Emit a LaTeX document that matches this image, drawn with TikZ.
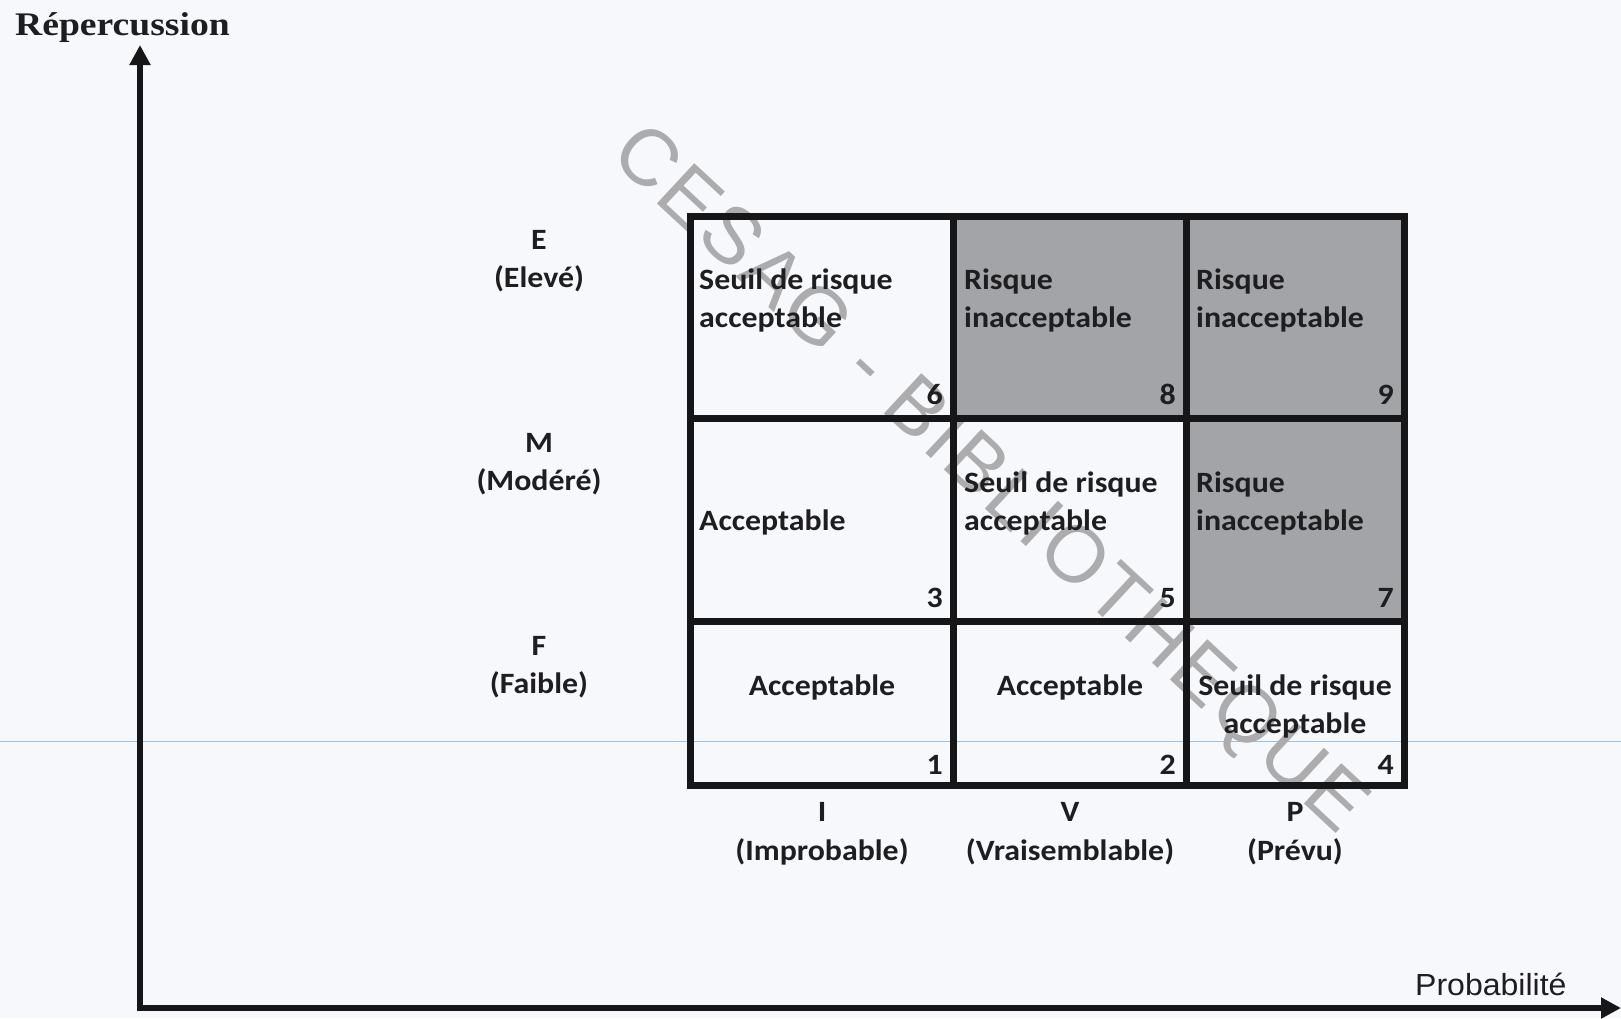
\documentclass[tikz,border=0pt]{standalone}
\usepackage{fontspec}
\usepackage{graphicx}
\usetikzlibrary{arrows.meta}
\setmainfont{Carlito}
\newfontfamily\timesfont{Liberation Serif}
\newfontfamily\arialfont{Liberation Sans}
\newfontfamily\stampfont[LetterSpace=4]{Liberation Sans}
\definecolor{paper}{RGB}{247,248,251}
\definecolor{ink}{RGB}{30,30,32}
\definecolor{rule}{RGB}{22,22,24}
\definecolor{cellgray}{RGB}{163,164,167}
\definecolor{stampgray}{RGB}{172,172,174}
\definecolor{scanblue}{RGB}{150,195,232}
\newcommand\cellfont{\bfseries\fontsize{29.5}{38}\selectfont}
\newcommand\sx[1]{\scalebox{1.08}[1]{#1}}
\tikzset{
  txt/.style={font=\cellfont, text=ink, inner sep=0pt},
  lft/.style={txt, anchor=base west},
  mid/.style={txt, anchor=base},
  num/.style={txt, anchor=base east},
  gridline/.style={draw=rule, line width=7pt, line cap=rect, line join=miter},
  axis/.style={draw=rule, line width=6pt, line join=miter,
    {Triangle[length=20pt,width=20pt]}-{Triangle[length=20pt,width=20pt]}},
}
\begin{document}
\begin{tikzpicture}[x=1pt,y=-1pt]
\useasboundingbox (0,0) rectangle (1621,1018);
\fill[paper] (0,0) rectangle (1621,1018);
% faint scanner streak
\draw[scanblue, line width=1.5pt] (0,741.5) -- (1621,741.5);

% library stamp
\node[rotate=-42.9, text=stampgray, inner sep=0pt,
      font=\stampfont\fontsize{80}{80}\selectfont] (stampmark) at (987,482)
      {CESAG - BIBLIOTHEQUE};

% axes
\coordinate (O) at (140,1008);
\coordinate (ytip) at (140,45);
\coordinate (xtip) at (1621,1008);
\draw[axis] (ytip) -- (O) -- (xtip);
\node[anchor=base west, inner sep=0pt, text=ink,
      font=\timesfont\bfseries\fontsize{33}{36}\selectfont] (ylabel) at (15,35)
      {\scalebox{1.14}[1]{Répercussion}};
\node[anchor=base west, inner sep=0pt, text=ink,
      font=\arialfont\fontsize{30.5}{34}\selectfont] (xlabel) at (1415,995)
      {\scalebox{1.05}[1]{Probabilité}};

% shaded cells
\fill[cellgray] (953,216) rectangle (1186,418);
\fill[cellgray] (1186,216) rectangle (1404,621);

% table rules
\draw[gridline] (690,216) rectangle (1404,785);
\draw[gridline] (953,216) -- (953,785);
\draw[gridline] (1186,216) -- (1186,785);
\draw[gridline] (690,418) -- (1404,418);
\draw[gridline] (690,621) -- (1404,621);

% top row
\node[lft] (c6a) at (699,289) {\sx{Seuil de risque}};
\node[lft] (c6b) at (699,327) {\sx{acceptable}};
\node[num] (n6) at (943,404) {\sx{6}};
\node[lft] (c8a) at (964,289) {\sx{Risque}};
\node[lft] (c8b) at (964,327) {\sx{inacceptable}};
\node[num] (n8) at (1176,404) {\sx{8}};
\node[lft] (c9a) at (1196,289) {\sx{Risque}};
\node[lft] (c9b) at (1196,327) {\sx{inacceptable}};
\node[num] (n9) at (1394,404) {\sx{9}};

% middle row
\node[lft] (c3) at (699,530) {\sx{Acceptable}};
\node[num] (n3) at (943,607) {\sx{3}};
\node[lft] (c5a) at (964,492) {\sx{Seuil de risque}};
\node[lft] (c5b) at (964,530) {\sx{acceptable}};
\node[num] (n5) at (1176,607) {\sx{5}};
\node[lft] (c7a) at (1196,492) {\sx{Risque}};
\node[lft] (c7b) at (1196,530) {\sx{inacceptable}};
\node[num] (n7) at (1394,607) {\sx{7}};

% bottom row
\node[mid] (c1) at (822,695) {\sx{Acceptable}};
\node[num] (n1) at (943,774) {\sx{1}};
\node[mid] (c2) at (1070,695) {\sx{Acceptable}};
\node[num] (n2) at (1176,774) {\sx{2}};
\node[mid] (c4a) at (1295,695) {\sx{Seuil de risque}};
\node[mid] (c4b) at (1295,733) {\sx{acceptable}};
\node[num] (n4) at (1394,774) {\sx{4}};

% row headings
\node[mid] (rE) at (539,249) {\sx{E}};
\node[mid] (rEt) at (539,287) {\sx{(Elevé)}};
\node[mid] (rM) at (539,452) {\sx{M}};
\node[mid] (rMt) at (539,490) {\sx{(Modéré)}};
\node[mid] (rF) at (539,655) {\sx{F}};
\node[mid] (rFt) at (539,693) {\sx{(Faible)}};

% column headings
\node[mid] (kI) at (822,821) {\sx{I}};
\node[mid] (kIt) at (822,860) {\sx{(Improbable)}};
\node[mid] (kV) at (1070,821) {\sx{V}};
\node[mid] (kVt) at (1070,860) {\sx{(Vraisemblable)}};
\node[mid] (kP) at (1295,821) {\sx{P}};
\node[mid] (kPt) at (1295,860) {\sx{(Prévu)}};
\end{tikzpicture}
\end{document}
